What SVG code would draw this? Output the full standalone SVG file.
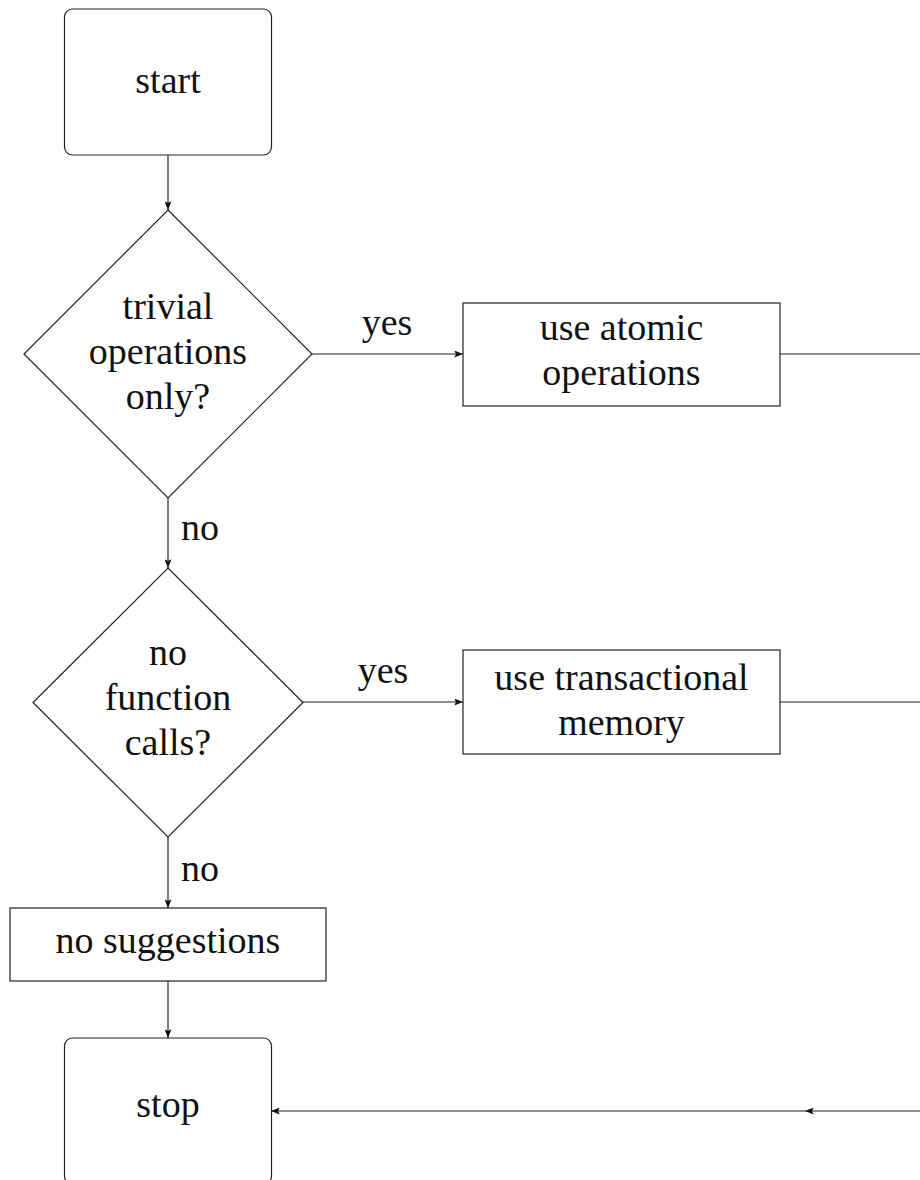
<svg xmlns="http://www.w3.org/2000/svg" width="920" height="1180" viewBox="0 0 920 1180">
<defs>
<marker id="arr" viewBox="0 0 10 8" refX="10" refY="4" markerWidth="9" markerHeight="7" markerUnits="userSpaceOnUse" orient="auto">
<path d="M0,0 L10,4 L0,8 L2,4 z" fill="#111"/>
</marker>
<style>
.shape{fill:#fff;stroke:#222;stroke-width:1.2}
.edge{fill:none;stroke:#222;stroke-width:1.2}
.t{font-family:'Liberation Serif','Times New Roman',serif;font-size:38px;fill:#111;text-anchor:middle}
</style>
</defs>
<rect width="920" height="1180" fill="#fff"/>
<g id="connectors">
<path class="edge" d="M168,155 L168,210" marker-end="url(#arr)"/>
<path class="edge" d="M312,354 L463,354" marker-end="url(#arr)"/>
<path class="edge" d="M168,498 L168,568" marker-end="url(#arr)"/>
<path class="edge" d="M303,702 L463,702" marker-end="url(#arr)"/>
<path class="edge" d="M168,837 L168,908" marker-end="url(#arr)"/>
<path class="edge" d="M168,981 L168,1038" marker-end="url(#arr)"/>
<path class="edge" d="M780,354 L920,354"/>
<path class="edge" d="M780,702 L920,702"/>
<path class="edge" d="M920,1111 L805,1111" marker-end="url(#arr)"/>
<path class="edge" d="M805,1111 L271,1111" marker-end="url(#arr)"/>
<text class="t" x="387" y="335">yes</text>
<text class="t" x="383" y="683">yes</text>
<text class="t" x="200" y="540">no</text>
<text class="t" x="200" y="881">no</text>
</g>
<g id="start">
<rect class="shape" x="64.5" y="9" width="207" height="146" rx="8"/>
<text class="t" x="168" y="93">start</text>
</g>
<g id="decision1">
<polygon class="shape" points="168,210 312,354 168,498 24,354"/>
<text class="t" x="168" y="319">trivial</text>
<text class="t" x="168" y="364">operations</text>
<text class="t" x="168" y="409">only?</text>
</g>
<g id="atomic">
<rect class="shape" x="463" y="303" width="317" height="103"/>
<text class="t" x="621.5" y="340">use atomic</text>
<text class="t" x="621.5" y="385">operations</text>
</g>
<g id="decision2">
<polygon class="shape" points="168,568 303,702.5 168,837 33,702.5"/>
<text class="t" x="168" y="665">no</text>
<text class="t" x="168" y="710">function</text>
<text class="t" x="168" y="755">calls?</text>
</g>
<g id="transactional">
<rect class="shape" x="463" y="650" width="317" height="104"/>
<text class="t" x="621.5" y="690">use transactional</text>
<text class="t" x="621.5" y="735">memory</text>
</g>
<g id="nosuggestions">
<rect class="shape" x="10" y="908" width="316" height="73"/>
<text class="t" x="168" y="953">no suggestions</text>
</g>
<g id="stop">
<rect class="shape" x="64.5" y="1038" width="207" height="146" rx="8"/>
<text class="t" x="168" y="1117">stop</text>
</g>
</svg>
